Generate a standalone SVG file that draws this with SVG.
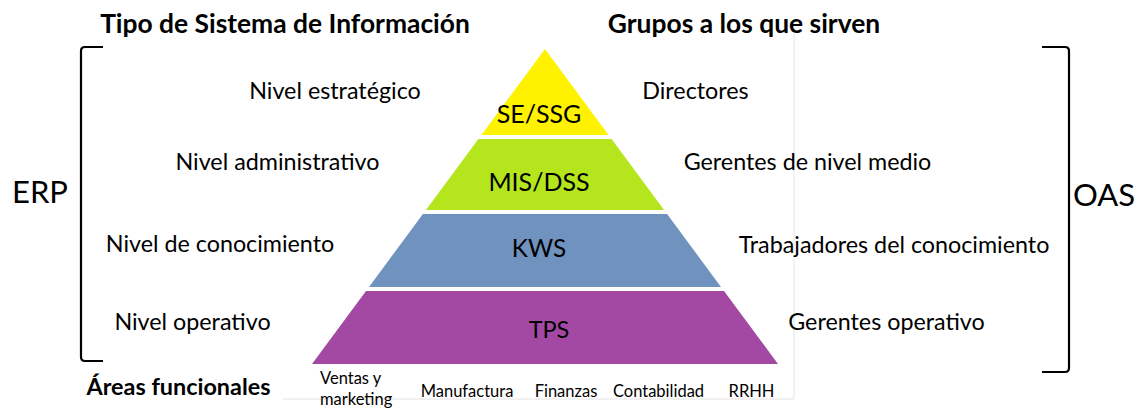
<svg xmlns="http://www.w3.org/2000/svg" width="1140" height="408" viewBox="0 0 1140 408">
<style>
text{font-family:Lato,"Liberation Sans",sans-serif;fill:#000}
.t{font-size:26.4px;font-weight:bold}
.l{font-size:23.3px;text-anchor:middle}
.p{font-size:25px;text-anchor:middle}
.b{font-size:31px;text-anchor:middle}
.s{font-size:16.5px}
.m{text-anchor:middle}
.br{fill:none;stroke:#000;stroke-width:2.2;stroke-linejoin:round}
</style>
<rect width="1140" height="408" fill="#fff"/>
<g id="frame"><path d="M794,34 V399 H283" fill="none" stroke="#e4e4e4" stroke-width="1"/></g>
<g id="titles">
<text class="t m" x="285" y="33">Tipo de Sistema de Información</text>
<text class="t m" x="744" y="33">Grupos a los que sirven</text>
<text class="t m" x="178.5" y="395" style="font-size:23.4px">Áreas funcionales</text>
</g>
<g id="pyramid">
<g id="se"><polygon points="545,49 608.6,135 481.4,135" fill="#FFF200"/><text class="p" x="539" y="123">SE/SSG</text></g>
<g id="mis"><polygon points="478.4,139 611.6,139 664.1,210 425.9,210" fill="#B5E61D"/><text class="p" x="539" y="191">MIS/DSS</text></g>
<g id="kws"><polygon points="422.9,214 667.1,214 721,287 369,287" fill="#7092BE"/><text class="p" x="539" y="257" style="font-size:24.3px">KWS</text></g>
<g id="tps"><polygon points="366,291 724,291 778,364 312,364" fill="#A349A4"/><text class="p" x="549" y="338" style="font-size:23.5px">TPS</text></g>
</g>
<g id="left-labels">
<text class="l" x="335" y="99">Nivel estratégico</text>
<text class="l" x="277.5" y="170">Nivel administrativo</text>
<text class="l" x="220" y="252">Nivel de conocimiento</text>
<text class="l" x="192.5" y="330">Nivel operativo</text>
</g>
<g id="right-labels">
<text class="l" x="695.5" y="99">Directores</text>
<text class="l" x="807.5" y="170">Gerentes de nivel medio</text>
<text class="l" x="894" y="253">Trabajadores del conocimiento</text>
<text class="l" x="886.5" y="330">Gerentes operativo</text>
</g>
<g id="areas">
<text class="s" x="320" y="384">Ventas y</text>
<text class="s" x="320" y="405">marketing</text>
<text class="s m" x="467" y="397">Manufactura</text>
<text class="s m" x="566" y="397">Finanzas</text>
<text class="s m" x="658.5" y="397">Contabilidad</text>
<text class="s m" x="751.5" y="397">RRHH</text>
</g>
<g id="erp">
<path class="br" d="M103,47 H85 Q81,47 81,51 V357 Q81,361 85,361 H103"/>
<text class="b" x="40" y="203">ERP</text>
</g>
<g id="oas">
<path class="br" d="M1042,47 H1065 Q1069,47 1069,51 V368 Q1069,372 1065,372 H1042"/>
<text class="b" x="1104" y="206">OAS</text>
</g>
</svg>
